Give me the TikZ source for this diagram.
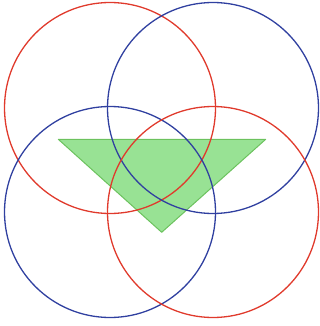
\documentclass[tikz,border=0pt]{standalone}
\usepackage{xcolor}
\usepackage{tikz}

\definecolor{ringred}{HTML}{E03A2C}
\definecolor{ringblue}{HTML}{3040A0}
\definecolor{trifill}{HTML}{98E294}
\definecolor{triedge}{HTML}{6CC25E}

\begin{document}
\begin{tikzpicture}[
    x=1pt, y=-1pt,
    ring/.style={circle, draw=#1, line width=1.3pt, minimum size=211pt, inner sep=0pt},
    tri/.style={fill=trifill, draw=triedge, line width=1pt, line join=round},
]
\useasboundingbox (0,0) rectangle (320,326);

% triangle
\coordinate (tl) at (58.3,139.3);
\coordinate (tr) at (265.7,139.3);
\coordinate (tb) at (161.7,232.3);
\draw[tri] (tl) -- (tr) -- (tb) -- cycle;

% rings
\node[ring=ringred]  (redA)  at (110,108) {};
\node[ring=ringblue] (blueA) at (213,108) {};
\node[ring=ringblue] (blueB) at (110,212) {};
\node[ring=ringred]  (redB)  at (213,212) {};
\end{tikzpicture}
\end{document}
